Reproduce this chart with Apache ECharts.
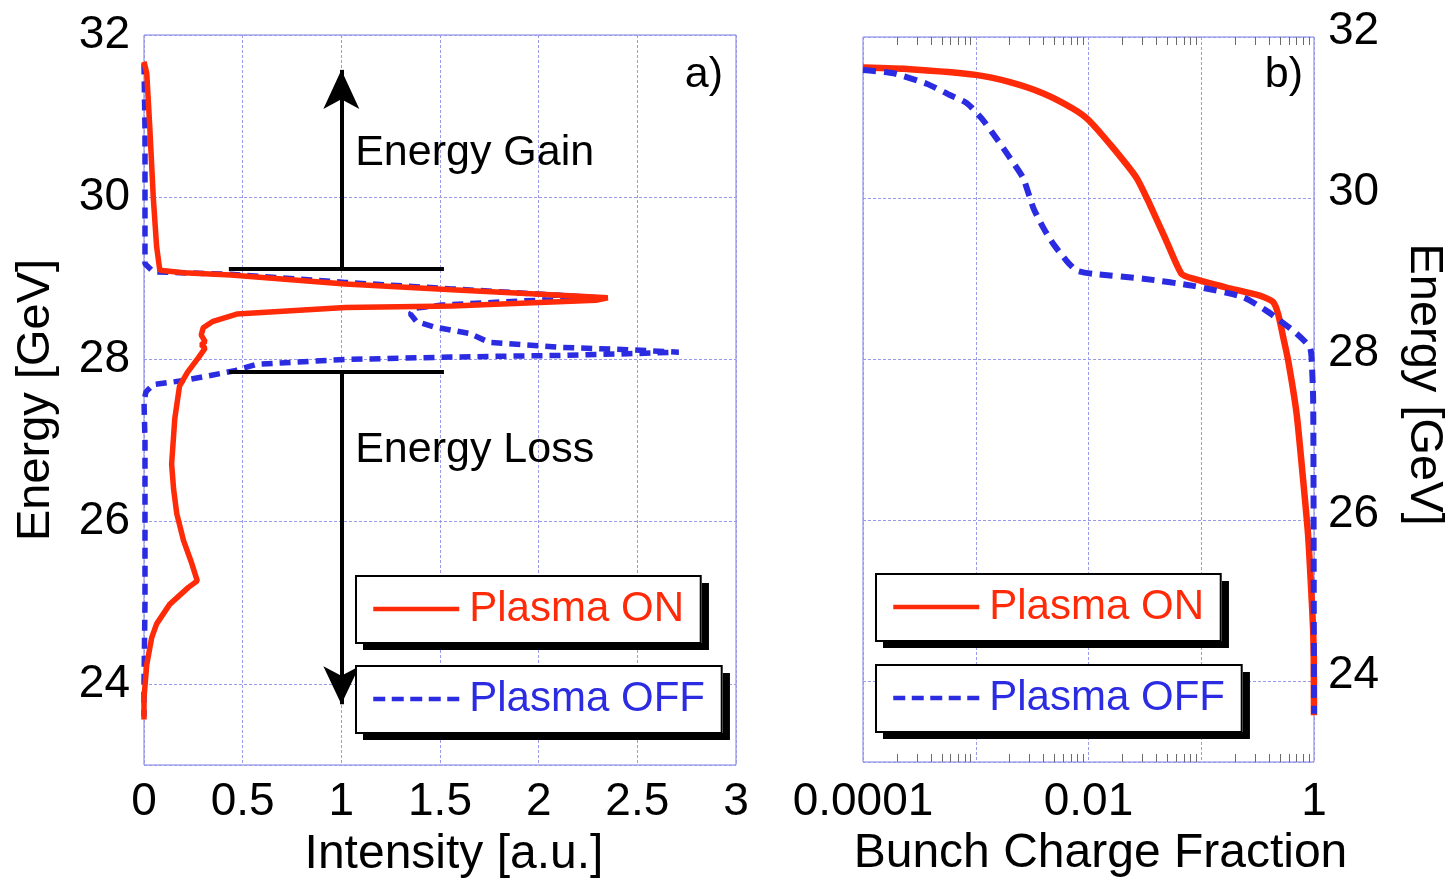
<!DOCTYPE html>
<html>
<head>
<meta charset="utf-8">
<title>Energy spectra: Plasma ON / OFF</title>
<script src="https://cdn.jsdelivr.net/npm/echarts@6/dist/echarts.min.js"></script>
<style>
  html, body { margin: 0; padding: 0; background: #ffffff; }
  #chart { width: 1445px; height: 880px; }
</style>
</head>
<body>
<div id="chart"></div>
<script>
// ---------- data ----------
// Tick labels
const energyTicks = [24, 26, 28, 30, 32];
const fractionLabelValues = [0.0001, 0.01, 1];
const fractionLabels = ['0.0001', '0.01', '1'];

// Panel a) spectrum with plasma ON: intensity [a.u.] vs energy [GeV]
const onIntensityA = [0.00, 0.014, 0.03, 0.047, 0.064, 0.08, 0.20, 0.44, 1.02, 1.56, 2.11, 2.35,
  2.29, 1.56, 1.02, 0.47, 0.35, 0.30, 0.29, 0.31, 0.29, 0.31, 0.275, 0.22, 0.18, 0.156,
  0.14, 0.15, 0.166, 0.20, 0.24, 0.27, 0.225, 0.13, 0.064, 0.039, 0.014, 0.0, 0.0];
const onEnergyA = [31.67, 31.53, 30.83, 30.0, 29.39, 29.10, 29.07, 29.04, 28.93, 28.86, 28.79, 28.76,
  28.73, 28.66, 28.64, 28.56, 28.47, 28.39, 28.30, 28.22, 28.18, 28.14, 28.02, 27.84, 27.67, 27.27,
  26.71, 26.40, 26.10, 25.77, 25.50, 25.27, 25.19, 24.98, 24.74, 24.57, 24.24, 23.83, 23.56];

// Panel a) spectrum with plasma OFF
const offIntensityA = [0.0, 0.005, 0.005, 0.005, 0.047, 0.44, 1.02, 1.56, 2.11, 2.30, 1.90, 1.51,
  1.37, 1.35, 1.38, 1.47, 1.65, 1.75, 2.11, 2.45, 2.71, 2.45, 2.11, 1.56, 1.02, 0.57, 0.46, 0.20,
  0.047, 0.01, 0.0, 0.005, 0.005, 0.005, 0.0, 0.0];
const offEnergyA = [31.65, 30.83, 30.0, 29.18, 29.08, 29.05, 28.95, 28.87, 28.79, 28.76, 28.72, 28.67,
  28.63, 28.56, 28.47, 28.40, 28.32, 28.21, 28.15, 28.12, 28.09, 28.07, 28.05, 28.03, 28.00, 27.94,
  27.86, 27.74, 27.69, 27.60, 27.49, 27.00, 26.00, 25.00, 24.00, 23.60];

// Panel b) cumulative bunch charge fraction above a given energy, plasma ON
const onFractionB = [0.0001, 0.000261, 0.001, 0.00201, 0.00398, 0.00731, 0.01, 0.0166, 0.0267,
  0.035, 0.049, 0.0668, 0.0851, 0.1675, 0.331, 0.434, 0.481, 0.532, 0.589, 0.70, 0.80, 0.887,
  0.95, 0.982, 0.995, 1.0];
const onEnergyB = [31.62, 31.60, 31.53, 31.44, 31.30, 31.11, 30.97, 30.62, 30.25,
  29.92, 29.47, 29.06, 29.00, 28.89, 28.79, 28.71, 28.56, 28.28, 27.99, 27.33, 26.51, 25.81,
  25.07, 24.65, 24.30, 23.58];

// Panel b) cumulative bunch charge fraction, plasma OFF
const offFractionB = [0.0001, 0.000186, 0.000367, 0.000589, 0.000832, 0.001127, 0.00153, 0.00201,
  0.00263, 0.00324, 0.00398, 0.00488, 0.0064, 0.00785, 0.011, 0.0306, 0.0851, 0.2355, 0.38, 0.498,
  0.70, 0.918, 0.95, 0.982, 0.99, 1.0];
const offEnergyB = [31.59, 31.55, 31.42, 31.28, 31.18, 30.99, 30.74, 30.50,
  30.25, 29.88, 29.63, 29.43, 29.22, 29.10, 29.06, 29.00, 28.91, 28.77, 28.60, 28.48,
  28.32, 28.15, 28.03, 27.53, 26.50, 23.60];

// ---------- styling ----------
const FONT = '"Liberation Sans", Arial, Helvetica, sans-serif';
const RED = '#fe2a08';
const BLUE = '#2b2be2';
const FRAME = '#7b7be0';
const GRID_LINE = '#9a9aea';
const DASH_A = [11, 7];
const DASH_B = [13, 8];
const CLEAR = 'rgba(0,0,0,0)';

const zip = (xs, ys) => xs.map((x, i) => [x, ys[i]]);

// logarithmic minor ticks (2..9 within each decade), expressed as log10 positions
const minorLogTicks = [];
for (let d = -4; d < 0; d++) {
  for (let k = 2; k <= 9; k++) minorLogTicks.push(d + Math.log10(k));
}

function fractionLabel(v) {
  const e = Math.round(Math.log10(v));
  const i = fractionLabelValues.findIndex(f => Math.round(Math.log10(f)) === e);
  return i >= 0 ? fractionLabels[i] : '';
}

const tickText = { fontSize: 46, color: '#000', fontFamily: FONT };
const xNameText = { fontSize: 48, color: '#000', fontFamily: FONT };
const yNameText = { fontSize: 47, color: '#000', fontFamily: FONT };
const splitLine = { show: true, lineStyle: { color: GRID_LINE, width: 1, type: [3, 2] } };

// fixed plot rectangles; labels and names are allowed to sit outside them
const gridBase = { outerBoundsMode: 'none', containLabel: false };
const gridA = { left: 144, right: 709, top: 35, bottom: 115 };
const gridB = { left: 863, right: 131, top: 37, bottom: 118 };

const minorAxis = (gridIndex, position) => ({
  gridIndex, type: 'value', min: -4, max: 0, position,
  axisLine: { show: false },
  axisLabel: { show: false },
  splitLine: { show: false },
  axisTick: { show: true, inside: true, length: 8, customValues: minorLogTicks,
    lineStyle: { color: '#6a6a6a', width: 1 } }
});

// Legend boxes are drawn in two layers with identical layout:
// a filled layer carrying the drop shadow and the entries, and an outline layer on top.
const legendLayout = {
  orient: 'horizontal',
  itemWidth: 86,
  itemHeight: 12,
  padding: [8, 18, 9, 15],
  selectedMode: false
};
function legendPair(name, color, dashed, left, top) {
  const text = { fontSize: 42, fontFamily: FONT, lineHeight: 50, padding: [0, 0, 0, 5] };
  return [
    Object.assign({}, legendLayout, {
      data: [name], left, top, z: 10,
      backgroundColor: '#ffffff', borderWidth: 0,
      shadowColor: '#000000', shadowBlur: 0, shadowOffsetX: 7, shadowOffsetY: 7,
      itemStyle: { opacity: 0, borderWidth: 0 },
      lineStyle: { color, width: 4.5, type: dashed ? [12, 6.5] : 'solid' },
      textStyle: Object.assign({ color }, text)
    }),
    Object.assign({}, legendLayout, {
      data: [name], left, top, z: 11,
      backgroundColor: CLEAR, borderColor: '#000000', borderWidth: 2,
      itemStyle: { opacity: 0, borderWidth: 0 },
      lineStyle: { color: CLEAR },
      textStyle: Object.assign({ color: CLEAR }, text)
    })
  ];
}

const chart = echarts.init(document.getElementById('chart'), null, { renderer: 'canvas' });

const option = {
  backgroundColor: '#ffffff',
  animation: false,
  textStyle: { fontFamily: FONT },
  grid: [
    Object.assign({ show: true, borderColor: FRAME, borderWidth: 1 }, gridBase, gridA),
    Object.assign({ show: true, borderColor: FRAME, borderWidth: 1 }, gridBase, gridB),
    Object.assign({ show: false }, gridBase, gridB)
  ],
  legend: [].concat(
    legendPair('Plasma ON', RED, false, 356, 576),
    legendPair('Plasma OFF', BLUE, true, 356, 666),
    legendPair('Plasma ON', RED, false, 876, 574),
    legendPair('Plasma OFF', BLUE, true, 876, 665)
  ),
  xAxis: [
    {
      gridIndex: 0, type: 'value', min: 0, max: 3, interval: 0.5, position: 'bottom',
      axisLine: { show: false }, axisTick: { show: false },
      axisLabel: Object.assign({ margin: 14 }, tickText),
      splitLine,
      name: 'Intensity [a.u.]', nameLocation: 'middle', nameGap: 66,
      nameTextStyle: Object.assign({ padding: [0, 0, 0, 28] }, xNameText)
    },
    {
      gridIndex: 1, type: 'log', logBase: 10, min: 0.0001, max: 1, position: 'bottom',
      axisLine: { show: false }, axisTick: { show: false },
      axisLabel: Object.assign({ margin: 17, formatter: fractionLabel }, tickText),
      splitLine,
      name: 'Bunch Charge Fraction', nameLocation: 'middle', nameGap: 68,
      nameTextStyle: Object.assign({ padding: [0, 0, 0, 24] }, xNameText)
    },
    minorAxis(1, 'top'),
    minorAxis(2, 'bottom')
  ],
  yAxis: [
    {
      gridIndex: 0, type: 'value', min: 23, max: 32, position: 'left',
      axisLine: { show: false }, axisTick: { show: false },
      axisLabel: Object.assign({ margin: 14, customValues: energyTicks }, tickText),
      splitLine,
      name: 'Energy [GeV]', nameLocation: 'middle', nameGap: 84, nameRotate: 90,
      nameTextStyle: yNameText
    },
    {
      gridIndex: 1, type: 'value', min: 23, max: 32, position: 'right',
      axisLine: { show: false }, axisTick: { show: false },
      axisLabel: Object.assign({ margin: 14, customValues: energyTicks,
        verticalAlign: 'bottom', lineHeight: 12 }, tickText),
      splitLine,
      name: 'Energy [GeV]', nameLocation: 'middle', nameGap: 86, nameRotate: -90,
      nameTextStyle: Object.assign({ padding: [0, 30, 0, 0] }, yNameText)
    },
    { gridIndex: 2, type: 'value', min: 0, max: 1, show: false }
  ],
  series: [
    {
      name: 'Plasma OFF', type: 'line', xAxisIndex: 0, yAxisIndex: 0,
      data: zip(offIntensityA, offEnergyA), symbol: 'none', clip: false, z: 3,
      lineStyle: { color: BLUE, width: 5.5, type: DASH_A }, itemStyle: { color: BLUE }
    },
    {
      name: 'Plasma ON', type: 'line', xAxisIndex: 0, yAxisIndex: 0,
      data: zip(onIntensityA, onEnergyA), symbol: 'none', clip: false, z: 4,
      lineStyle: { color: RED, width: 5.5 }, itemStyle: { color: RED }
    },
    {
      name: 'Plasma ON', type: 'line', xAxisIndex: 1, yAxisIndex: 1,
      data: zip(onFractionB, onEnergyB), symbol: 'none', clip: false, z: 3, smooth: 0.2,
      lineStyle: { color: RED, width: 6.5 }, itemStyle: { color: RED }
    },
    {
      name: 'Plasma OFF', type: 'line', xAxisIndex: 1, yAxisIndex: 1,
      data: zip(offFractionB, offEnergyB), symbol: 'none', clip: false, z: 4, smooth: 0.2,
      lineStyle: { color: BLUE, width: 6, type: DASH_B }, itemStyle: { color: BLUE }
    },
    {
      // energy-gain / energy-loss markers: bars at the bunch edges and arrows
      name: 'markers', type: 'line', xAxisIndex: 0, yAxisIndex: 0, data: [],
      silent: true, z: 5,
      markLine: {
        silent: true, animation: false,
        label: { show: false },
        symbol: ['none', 'none'],
        lineStyle: { color: '#000', width: 4, type: 'solid' },
        emphasis: { disabled: true },
        data: [
          [{ coord: [0.43, 29.12] }, { coord: [1.52, 29.12] }],
          [{ coord: [0.43, 27.85] }, { coord: [1.52, 27.85] }],
          [{ coord: [1, 29.12] }, { coord: [1, 31.57], symbol: 'arrow', symbolSize: [27, 39] }],
          [{ coord: [1, 27.85] }, { coord: [1, 23.75], symbol: 'arrow', symbolSize: [27, 38] }]
        ]
      }
    }
  ]
};

chart.setOption(option);

// text annotations placed through the panel a) coordinate system
const gainPos = chart.convertToPixel({ gridIndex: 0 }, [1.07, 30.54]);
const lossPos = chart.convertToPixel({ gridIndex: 0 }, [1.07, 26.88]);
const annText = (x, y, text, align) => ({
  type: 'text', x, y, z: 20,
  style: { text, fill: '#000', font: '43px ' + FONT, textAlign: align, textVerticalAlign: 'middle' }
});
chart.setOption({
  graphic: [
    annText(gainPos[0], gainPos[1], 'Energy Gain', 'left'),
    annText(lossPos[0], lossPos[1], 'Energy Loss', 'left'),
    annText(723, 75, 'a)', 'right'),
    annText(1303, 75, 'b)', 'right')
  ]
});
</script>
</body>
</html>
